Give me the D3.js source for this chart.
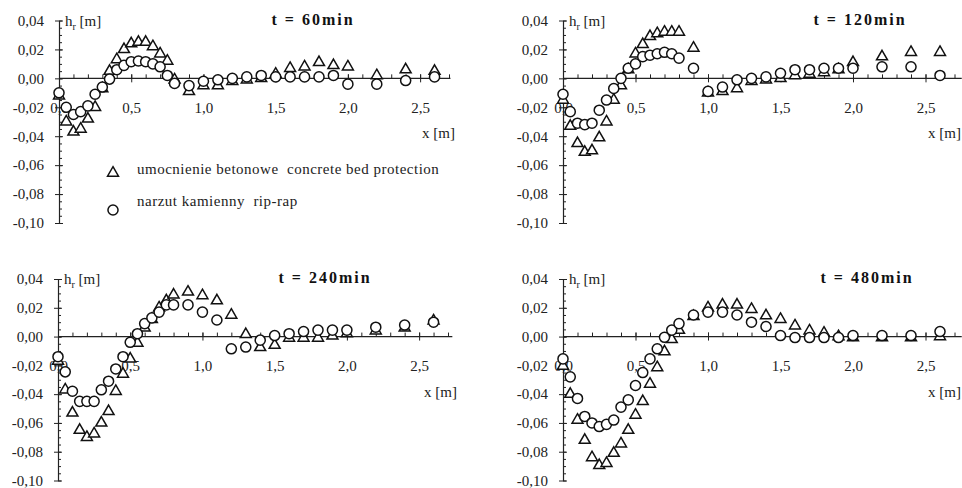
<!DOCTYPE html>
<html>
<head>
<meta charset="utf-8">
<script src="https://cdn.jsdelivr.net/npm/d3@7"></script>
<style>
  body { margin: 0; background: #fff; }
  svg { display: block; font-family: "Liberation Serif", "Times New Roman", serif; }
  .tick text { font-family: "Liberation Serif", "Times New Roman", serif; font-size: 15px; fill: #222; }
</style>
</head>
<body>
<div id="chart"></div>
<script>
// measuring points along the channel [m]
const xPoints = [0, 0.05, 0.1, 0.15, 0.2, 0.25, 0.3, 0.35, 0.4, 0.45, 0.5, 0.55, 0.6, 0.65, 0.7, 0.75, 0.8,
  0.9, 1.0, 1.1, 1.2, 1.3, 1.4, 1.5, 1.6, 1.7, 1.8, 1.9, 2.0, 2.2, 2.4, 2.6];

// h_r [m], concrete bed protection (triangles) and rip-rap (circles)
const concrete60 = [-0.012, -0.030, -0.037, -0.035, -0.028, -0.020, -0.007, 0.005, 0.013, 0.020, 0.024, 0.025, 0.025, 0.022, 0.017, 0.012, -0.001,
  -0.009, -0.005, -0.005, -0.002, -0.001, 0.000, 0.003, 0.007, 0.008, 0.011, 0.009, 0.008, 0.002, 0.006, 0.005];
const riprap60 = [-0.010, -0.020, -0.025, -0.023, -0.019, -0.011, -0.006, -0.0005, 0.006, 0.009, 0.0115, 0.012, 0.0115, 0.010, 0.008, 0.002, -0.0035,
  -0.005, -0.002, -0.001, 0.000, 0.001, 0.002, 0.001, 0.001, 0.001, 0.001, 0.002, -0.004, -0.004, -0.0015, 0.001];

const concrete120 = [-0.015, -0.033, -0.045, -0.051, -0.050, -0.041, -0.030, -0.015, -0.005, 0.006, 0.017, 0.0235, 0.029, 0.031, 0.032, 0.032, 0.032,
  0.021, -0.010, -0.009, -0.007, -0.002, -0.001, 0.000, 0.002, 0.003, 0.004, 0.006, 0.011, 0.015, 0.018, 0.018];
const riprap120 = [-0.011, -0.023, -0.031, -0.032, -0.031, -0.022, -0.015, -0.007, 0.000, 0.007, 0.010, 0.015, 0.016, 0.017, 0.018, 0.017, 0.014,
  0.007, -0.009, -0.006, -0.001, 0.000, 0.001, 0.0035, 0.006, 0.006, 0.007, 0.007, 0.007, 0.008, 0.008, 0.002];

const concrete240 = [-0.017, -0.037, -0.053, -0.065, -0.070, -0.0675, -0.060, -0.052, -0.038, -0.026, -0.0155, -0.0045, 0.006, 0.012, 0.020, 0.025, 0.029,
  0.031, 0.0285, 0.025, 0.015, 0.0015, -0.0075, -0.006, -0.001, -0.001, -0.001, 0.0005, 0.002, 0.004, 0.006, 0.011];
const riprap240 = [-0.014, -0.0245, -0.038, -0.045, -0.045, -0.045, -0.037, -0.031, -0.0225, -0.014, -0.004, 0.002, 0.009, 0.013, 0.017, 0.022, 0.022,
  0.022, 0.017, 0.0115, -0.0085, -0.0073, -0.0025, 0.0007, 0.002, 0.0035, 0.0045, 0.0045, 0.0045, 0.0065, 0.008, 0.010];

const concrete480 = [-0.0205, -0.040, -0.058, -0.072, -0.084, -0.0895, -0.088, -0.081, -0.0745, -0.065, -0.0545, -0.045, -0.033, -0.0215, -0.0105, -0.002, 0.0045,
  0.014, 0.020, 0.022, 0.022, 0.019, 0.0145, 0.012, 0.0075, 0.004, 0.0025, 0.000, -0.0007, -0.0007, -0.0007, 0.000];
const riprap480 = [-0.0155, -0.028, -0.043, -0.0555, -0.060, -0.0625, -0.061, -0.058, -0.049, -0.044, -0.034, -0.025, -0.0155, -0.0085, -0.0005, 0.0045, 0.009,
  0.015, 0.017, 0.017, 0.015, 0.010, 0.007, 0.0007, -0.0007, -0.0007, -0.0007, -0.0007, 0.0007, 0.0007, 0.0007, 0.0035];

const titles = ["t = 60min", "t = 120min", "t = 240min", "t = 480min"];
const xTicks = [0, 0.5, 1.0, 1.5, 2.0, 2.5];
const yTicks = [0.04, 0.02, 0.00, -0.02, -0.04, -0.06, -0.08, -0.10];
const legendLabels = ["umocnienie betonowe  concrete bed protection", "narzut kamienny  rip-rap"];

const W = 962, H = 488;

// panel placement
const panels = [
  { title: titles[0], tri: concrete60, circ: riprap60, left: 59, top: 20.5, bottom: 223, width: 390, tx: 313, axisEnd: 2.71, xlabEnd: 455, legend: true },
  { title: titles[1], tri: concrete120, circ: riprap120, left: 563, top: 20.5, bottom: 223, width: 391.5, tx: 860, axisEnd: 2.75, xlabEnd: 961 },
  { title: titles[2], tri: concrete240, circ: riprap240, left: 58, top: 279, bottom: 480.5, width: 390, tx: 325, axisEnd: 2.73, xlabEnd: 457 },
  { title: titles[3], tri: concrete480, circ: riprap480, left: 563, top: 279, bottom: 480.5, width: 391.5, tx: 867, axisEnd: 2.75, xlabEnd: 961 }
];

const comma = (v, d) => (v < 0 ? "-" : "") + Math.abs(v).toFixed(d).replace(".", ",");

const svg = d3.select("#chart").append("svg")
  .attr("width", W)
  .attr("height", H);
svg.append("rect").attr("width", W).attr("height", H).attr("fill", "#fff");

const triPath = d3.symbol(d3.symbolTriangle, 52)();
const circPath = d3.symbol(d3.symbolCircle, 80)();
const ink = "#222";

panels.forEach(p => {
  const xScale = d3.scaleLinear().domain([0, 2.7]).range([p.left, p.left + p.width]);
  const yScale = d3.scaleLinear().domain([-0.10, 0.04]).range([p.bottom, p.top]);
  const y0 = yScale(0);
  const g = svg.append("g");

  // y axis, major ticks crossing, minor ticks inside
  const yMinor = d3.range(-0.10, 0.0401, 0.005);
  g.append("g")
    .attr("transform", "translate(" + p.left + ",0)")
    .call(d3.axisLeft(yScale).tickValues(yMinor).tickSize(-3).tickFormat(""))
    .call(a => a.select(".domain").remove())
    .selectAll("line").attr("stroke", ink);

  const yA = g.append("g")
    .attr("transform", "translate(" + p.left + ",0)")
    .call(d3.axisLeft(yScale).tickValues(yTicks).tickSizeInner(4).tickSizeOuter(0).tickPadding(11)
      .tickFormat(d => comma(d, 2)));
  yA.select(".domain").attr("stroke", ink).attr("stroke-width", 1.2);
  yA.selectAll(".tick line").attr("x1", 4).attr("x2", -4).attr("stroke", ink);

  // x axis along h = 0
  const xMinor = d3.range(0.1, p.axisEnd, 0.1);
  g.append("g")
    .attr("transform", "translate(0," + y0 + ")")
    .call(d3.axisBottom(xScale).tickValues(xMinor).tickSize(-4).tickFormat(""))
    .call(a => a.select(".domain").remove())
    .selectAll("line").attr("stroke", ink);

  const xA = g.append("g")
    .attr("transform", "translate(0," + y0 + ")")
    .call(d3.axisBottom(xScale).tickValues(xTicks).tickSizeInner(4).tickSizeOuter(0).tickPadding(20)
      .tickFormat(d => comma(d, 1)));
  xA.select(".domain").remove();
  xA.selectAll(".tick line").attr("y1", -4).attr("y2", 4).attr("stroke", ink);
  g.append("line")
    .attr("x1", xScale(0)).attr("x2", xScale(p.axisEnd))
    .attr("y1", y0).attr("y2", y0)
    .attr("stroke", ink).attr("stroke-width", 1.2);

  // labels
  const hl = g.append("text")
    .attr("x", p.left + 6).attr("y", p.top + 5)
    .attr("font-size", 15).attr("fill", ink);
  hl.append("tspan").text("h");
  hl.append("tspan").attr("font-size", 10).attr("dy", 4).text("r");
  hl.append("tspan").attr("dy", -4).text(" [m]");

  g.append("text")
    .attr("x", p.xlabEnd).attr("y", y0 + 60)
    .attr("text-anchor", "end")
    .attr("font-size", 15).attr("fill", ink)
    .text("x [m]");

  g.append("text")
    .attr("x", p.tx).attr("y", p.top + 4)
    .attr("text-anchor", "middle")
    .attr("font-size", 16).attr("font-weight", "bold")
    .attr("letter-spacing", 2).attr("fill", "#111")
    .text(p.title);

  // data
  g.append("g").selectAll("path")
    .data(xPoints.map((x, i) => [x, p.tri[i]]))
    .join("path")
    .attr("d", triPath)
    .attr("transform", d => "translate(" + xScale(d[0]) + "," + yScale(d[1]) + ")")
    .attr("fill", "#fff").attr("stroke", "#111").attr("stroke-width", 1.5);

  g.append("g").selectAll("path")
    .data(xPoints.map((x, i) => [x, p.circ[i]]))
    .join("path")
    .attr("d", circPath)
    .attr("transform", d => "translate(" + xScale(d[0]) + "," + yScale(d[1]) + ")")
    .attr("fill", "#fff").attr("stroke", "#111").attr("stroke-width", 1.5);

  if (p.legend) {
    const lg = g.append("g");
    lg.append("path").attr("d", triPath).attr("transform", "translate(113,173)")
      .attr("fill", "#fff").attr("stroke", "#111").attr("stroke-width", 1.5);
    lg.append("path").attr("d", circPath).attr("transform", "translate(113,210)")
      .attr("fill", "#fff").attr("stroke", "#111").attr("stroke-width", 1.5);
    lg.selectAll("text")
      .data(legendLabels)
      .join("text")
      .attr("x", 137)
      .attr("y", (d, i) => 174 + i * 32)
      .attr("font-size", 15).attr("fill", ink)
      .attr("letter-spacing", 0.5)
      .style("white-space", "pre")
      .text(d => d);
  }
});
</script>
</body>
</html>
